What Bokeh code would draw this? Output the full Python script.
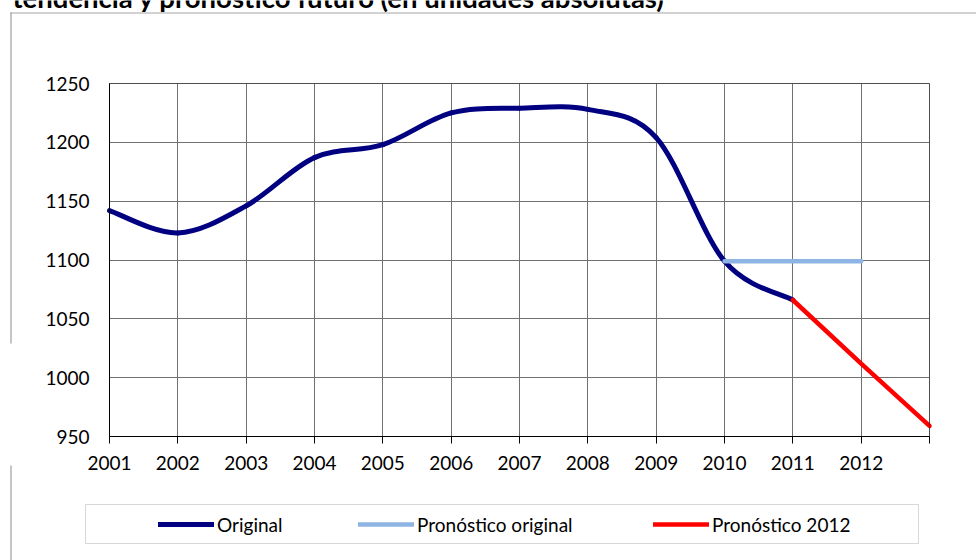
from bokeh.plotting import figure
from bokeh.models import Legend, LegendItem, Label, BoxAnnotation, FixedTicker, Range1d
from bokeh.embed import file_html
from bokeh.resources import INLINE

# ---------------- data ----------------
title_text = "tendencia y pronóstico futuro (en unidades absolutas)"
years = [2001, 2002, 2003, 2004, 2005, 2006, 2007, 2008, 2009, 2010, 2011]
original = [1142, 1123, 1146, 1187, 1198, 1225, 1229, 1228, 1204, 1099, 1066]
fc_orig_years = [2010, 2011, 2012]
fc_orig = [1099, 1099, 1099]
fc_2012_years = [2011, 2012, 2013]
fc_2012 = [1066, 1012, 959]
tick_years = [2001, 2002, 2003, 2004, 2005, 2006, 2007, 2008, 2009, 2010, 2011, 2012, 2013]
tick_labels = ["2001", "2002", "2003", "2004", "2005", "2006", "2007", "2008", "2009",
               "2010", "2011", "2012", ""]
y_ticks = [950, 1000, 1050, 1100, 1150, 1200, 1250]
series_names = ["Original", "Pronóstico original", "Pronóstico 2012"]

NAVY = "#000080"
LBLUE = "#8EB4E3"
RED = "#FF0000"
FONT = "Lato"

# ---------------- layout (pixels) ----------------
W, H = 976, 560
PL, PR, PT, PB = 109, 929, 83, 436          # plot area
XMIN, XMAX = tick_years[0], tick_years[-1]
YMIN, YMAX = y_ticks[0], y_ticks[-1]
xs_per_px = (XMAX - XMIN) / (PR - PL)
ys_per_px = (YMAX - YMIN) / (PB - PT)
x_range = Range1d(XMIN - PL * xs_per_px, XMAX + (W - PR) * xs_per_px)
y_range = Range1d(YMIN - (H - PB) * ys_per_px, YMAX + PT * ys_per_px)


def sx(page_x):
    return page_x


def sy(page_y):
    return H - page_y


def smooth(xs, ys, t=1.0 / 6.0):
    n = len(xs)
    d = dict(x0=[], y0=[], x1=[], y1=[], cx0=[], cy0=[], cx1=[], cy1=[])
    for i in range(n - 1):
        ip = max(i - 1, 0)
        i2 = min(i + 2, n - 1)
        d["x0"].append(xs[i]); d["y0"].append(ys[i])
        d["x1"].append(xs[i + 1]); d["y1"].append(ys[i + 1])
        d["cx0"].append(xs[i] + (xs[i + 1] - xs[ip]) * t)
        d["cy0"].append(ys[i] + (ys[i + 1] - ys[ip]) * t)
        d["cx1"].append(xs[i + 1] - (xs[i2] - xs[i]) * t)
        d["cy1"].append(ys[i + 1] - (ys[i2] - ys[i]) * t)
    return d


p = figure(width=W, height=H, output_backend="svg", toolbar_location=None,
           x_range=x_range, y_range=y_range,
           min_border=0, min_border_left=0, min_border_right=0,
           min_border_top=0, min_border_bottom=0)
p.background_fill_color = "white"
p.border_fill_color = "white"
p.outline_line_color = None

# axes placed at the plot-area edges
xa, ya = p.xaxis[0], p.yaxis[0]
xa.fixed_location = YMIN
ya.fixed_location = XMIN
xa.bounds = (XMIN, XMAX)
ya.bounds = (YMIN, YMAX)
xa.ticker = FixedTicker(ticks=tick_years)
xa.major_label_overrides = {y: l for y, l in zip(tick_years, tick_labels)}
ya.ticker = FixedTicker(ticks=y_ticks)
for ax in (xa, ya):
    ax.axis_line_color = "black"
    ax.major_tick_line_color = "black"
    ax.minor_tick_line_color = None
    ax.major_label_text_font = FONT
    ax.major_label_text_font_size = "19px"
    ax.major_label_text_color = "black"
xa.major_tick_out = 7
xa.major_tick_in = 0
xa.major_label_standoff = 12
ya.major_tick_out = 0
ya.major_tick_in = 0
ya.major_label_standoff = 20

p.xgrid.ticker = FixedTicker(ticks=tick_years)
p.ygrid.ticker = FixedTicker(ticks=y_ticks)
p.xgrid.bounds = (XMIN, XMAX)
p.xgrid.cross_bounds = (YMIN, YMAX)
p.ygrid.bounds = (YMIN, YMAX)
p.ygrid.cross_bounds = (XMIN, XMAX)
p.xgrid.grid_line_color = "#707070"
p.ygrid.grid_line_color = "#707070"

# series
p.bezier(**smooth(years, original), line_color=NAVY, line_width=5, line_cap="round")
# single-point line (draws nothing) that only provides the legend swatch
r_orig = p.line(years[:1], original[:1], line_color=NAVY, line_width=5, line_cap="round")
r_fo = p.line(fc_orig_years, fc_orig, line_color=LBLUE, line_width=4.5, line_cap="round")
r_f12 = p.line(fc_2012_years, fc_2012, line_color=RED, line_width=4.5, line_cap="round")

# plot area border (top / right)
p.add_layout(BoxAnnotation(left=XMIN, right=XMAX, bottom=YMIN, top=YMAX,
                           fill_alpha=0, line_color="black", line_width=1))

SCR = dict(left_units="screen", right_units="screen",
           top_units="screen", bottom_units="screen")

# legend box
p.add_layout(BoxAnnotation(left=sx(85), right=sx(918), top=sy(504), bottom=sy(543),
                           fill_alpha=0, line_color="#7a7a7a", line_width=1, **SCR))

for r, name, gx in zip([r_orig, r_fo, r_f12], series_names, [158, 358, 653]):
    leg = Legend(items=[LegendItem(label=name, renderers=[r])],
                 location=(sx(gx), sy(536)), orientation="horizontal",
                 padding=0, margin=0, spacing=0, glyph_width=56, glyph_height=24,
                 label_height=24, label_standoff=3,
                 label_text_font=FONT, label_text_font_size="19px",
                 label_text_color="black",
                 border_line_color=None, background_fill_alpha=0)
    p.add_layout(leg, "center")

# outer chart border (top and left)
BORDER = "#8c8c8c"
p.add_layout(BoxAnnotation(left=sx(10), right=sx(976), top=sy(12), bottom=sy(13),
                           fill_color="#a6a6a6", fill_alpha=1, line_color=None, **SCR))
p.add_layout(BoxAnnotation(left=sx(10), right=sx(11), top=sy(12), bottom=sy(343),
                           fill_color=BORDER, fill_alpha=1, line_color=None, **SCR))
p.add_layout(BoxAnnotation(left=sx(10), right=sx(11), top=sy(465), bottom=sy(560),
                           fill_color=BORDER, fill_alpha=1, line_color=None, **SCR))

# title (cut off at the top, as in the reference)
p.add_layout(Label(x=sx(12), y=sy(-3), x_units="screen", y_units="screen",
                   text=title_text, text_font=FONT, text_font_style="bold",
                   text_font_size="27.5px", text_color="black",
                   text_baseline="alphabetic", text_align="left"))

open("out.html", "w").write(file_html(p, INLINE))
